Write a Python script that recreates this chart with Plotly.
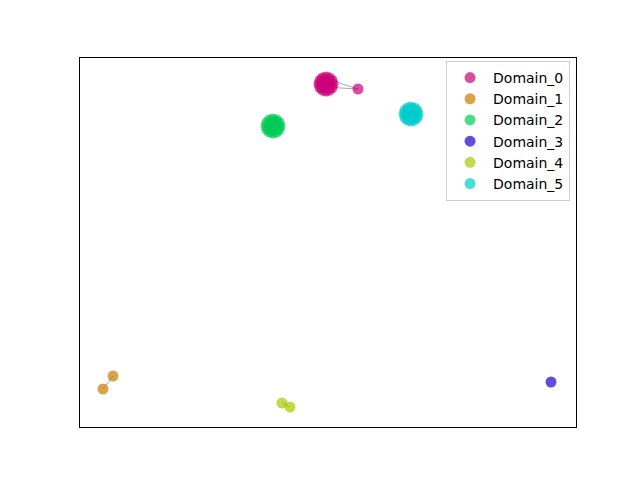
import plotly.graph_objects as go

domains = ["Domain_0", "Domain_1", "Domain_2", "Domain_3", "Domain_4", "Domain_5"]
colors = ["#cc0077", "#cc7a00", "#00cc55", "#2200cc", "#a3cc00", "#00cccc"]

# node positions per domain (x, y)
d0_x = [253, 252, 249.5, 246, 242.5, 240, 239, 240, 242.5, 246, 249.5, 252,
        250, 248, 244, 242, 244, 248, 246, 246, 278]
d0_y = [343, 346.5, 349, 350, 349, 346.5, 343, 339.5, 337, 336, 337, 339.5,
        343, 346.5, 346.5, 343, 339.5, 339.5, 343, 343, 338]
d1_x = [23, 33]
d1_y = [38, 51]
d2_x = [200, 199, 196.5, 193, 189.5, 187, 186, 187, 189.5, 193, 196.5, 199,
        197, 195, 191, 189, 191, 195, 193, 193]
d2_y = [301, 304.5, 307, 308, 307, 304.5, 301, 297.5, 295, 294, 295, 297.5,
        301, 304.5, 304.5, 301, 297.5, 297.5, 301, 301]
d3_x = [471]
d3_y = [45]
d4_x = [202, 210]
d4_y = [24, 20]
d5_x = [338, 337, 334.5, 331, 327.5, 325, 324, 325, 327.5, 331, 334.5, 337,
        335, 333, 329, 327, 329, 333, 331, 331]
d5_y = [313, 316.5, 319, 320, 319, 316.5, 313, 309.5, 307, 306, 307, 309.5,
        313, 316.5, 316.5, 313, 309.5, 309.5, 313, 313]

xs = [d0_x, d1_x, d2_x, d3_x, d4_x, d5_x]
ys = [d0_y, d1_y, d2_y, d3_y, d4_y, d5_y]

# edges: (domain index, node a, node b)
edges = [(0, 1, 20), (0, 11, 20), (1, 0, 1), (4, 0, 1)]

fig = go.Figure()
ex, ey = [], []
for d, a, b in edges:
    ex += [xs[d][a], xs[d][b], None]
    ey += [ys[d][a], ys[d][b], None]
fig.add_trace(go.Scatter(x=ex, y=ey, mode="lines",
                         line=dict(color="rgba(110,110,110,0.6)", width=1),
                         showlegend=False, hoverinfo="skip"))
for name, c, x, y in zip(domains, colors, xs, ys):
    fig.add_trace(go.Scatter(x=x, y=y, mode="markers", name=name,
                             marker=dict(color=c, size=11, opacity=0.7,
                                         line=dict(width=0))))

fig.update_layout(
    width=640, height=480,
    margin=dict(l=72, r=72, t=50, b=61),
    paper_bgcolor="white", plot_bgcolor="white",
    font=dict(family="DejaVu Sans", size=14, color="black"),
    xaxis=dict(range=[0, 496], showticklabels=False, ticks="", showgrid=False,
               zeroline=False, showline=True, linecolor="black", linewidth=1, mirror=True),
    yaxis=dict(range=[0, 369], showticklabels=False, ticks="", showgrid=False,
               zeroline=False, showline=True, linecolor="black", linewidth=1, mirror=True),
    legend=dict(x=0.988, y=0.992, xanchor="right", yanchor="top",
                bgcolor="rgba(255,255,255,0.8)", bordercolor="#cccccc", borderwidth=1,
                font=dict(family="DejaVu Sans", size=14), tracegroupgap=0,
                itemwidth=36),
)
fig.write_html("out.html")
